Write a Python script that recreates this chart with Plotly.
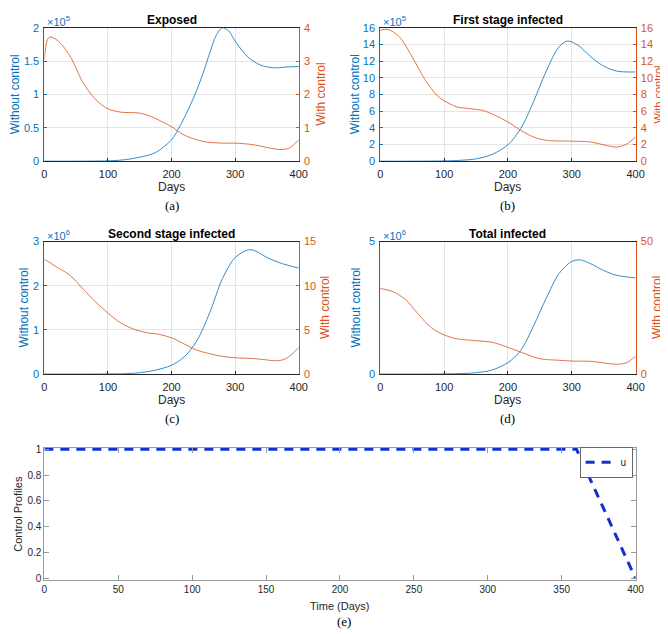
import plotly.graph_objects as go

W, H = 668, 634


def px(x):
    return x / W


def py(y):
    return 1 - y / H


# ---------------- data ----------------
# (a) Exposed  (left axis in units of 1e5)
exp_wo_days = [0, 50, 100, 125, 150, 175, 200, 210, 220, 236, 250, 260, 270, 280, 290, 300, 320, 340, 360, 380, 400]
exp_wo_vals = [0, 0, 0.005, 0.02, 0.06, 0.13, 0.32, 0.47, 0.65, 0.98, 1.33, 1.62, 1.88, 2.0, 1.95, 1.8, 1.56, 1.44, 1.40, 1.41, 1.42]
exp_w_days = [0, 4, 8, 20, 40, 60, 80, 100, 120, 150, 170, 200, 220, 250, 280, 300, 330, 350, 370, 385, 400]
exp_w_vals = [3.04, 3.6, 3.72, 3.63, 3.16, 2.38, 1.86, 1.57, 1.47, 1.44, 1.32, 1.03, 0.78, 0.59, 0.54, 0.54, 0.49, 0.41, 0.35, 0.39, 0.64]

# (b) First stage infected (left axis in units of 1e5)
fs_wo_days = [0, 50, 100, 125, 150, 175, 200, 220, 240, 260, 280, 293, 310, 330, 350, 370, 385, 400]
fs_wo_vals = [0, 0, 0.03, 0.1, 0.27, 0.8, 1.96, 3.9, 7.1, 10.8, 13.7, 14.4, 13.9, 12.5, 11.4, 10.8, 10.7, 10.7]
fs_w_days = [0, 12, 30, 50, 70, 90, 100, 120, 140, 160, 180, 200, 220, 240, 260, 300, 330, 350, 370, 385, 400]
fs_w_vals = [15.7, 15.8, 14.9, 12.5, 9.8, 7.8, 7.25, 6.5, 6.3, 6.1, 5.5, 4.7, 3.7, 2.9, 2.5, 2.4, 2.3, 1.96, 1.7, 2.0, 2.9]

# (c) Second stage infected (left axis in units of 1e6)
ss_wo_days = [0, 50, 100, 130, 150, 175, 200, 220, 240, 260, 280, 300, 320, 330, 350, 370, 400]
ss_wo_vals = [0, 0, 0.003, 0.01, 0.03, 0.09, 0.2, 0.39, 0.76, 1.39, 2.16, 2.64, 2.81, 2.8, 2.64, 2.52, 2.4]
ss_w_days = [0, 20, 40, 60, 80, 100, 120, 140, 160, 180, 200, 220, 240, 260, 280, 300, 330, 350, 365, 380, 400]
ss_w_vals = [13.0, 12.1, 11.2, 9.7, 8.2, 6.9, 5.8, 5.1, 4.7, 4.5, 4.1, 3.4, 2.7, 2.3, 2.0, 1.85, 1.75, 1.6, 1.5, 1.75, 3.0]

# (d) Total infected (left axis in units of 1e6)
ti_wo_days = [0, 50, 100, 130, 150, 175, 200, 220, 240, 260, 280, 300, 313, 330, 350, 370, 400]
ti_wo_vals = [0, 0, 0.005, 0.02, 0.05, 0.15, 0.43, 0.89, 1.81, 2.86, 3.79, 4.25, 4.31, 4.16, 3.91, 3.73, 3.63]
ti_w_days = [0, 20, 40, 60, 80, 100, 120, 150, 175, 200, 220, 250, 280, 300, 330, 350, 370, 385, 400]
ti_w_vals = [32.3, 31.1, 28.0, 22.5, 17.5, 14.8, 13.3, 12.6, 12.0, 10.1, 8.3, 5.8, 5.2, 4.9, 4.8, 4.2, 3.7, 4.2, 6.7]

# (e) Control profile
u_days = [0, 360, 400]
u_vals = [1, 1, 0]

panel_titles = ["Exposed", "First stage infected", "Second stage infected", "Total infected"]
panel_exps = ["5", "5", "6", "6"]
left_ticks = [[0, 0.5, 1, 1.5, 2], [0, 2, 4, 6, 8, 10, 12, 14, 16], [0, 1, 2, 3], [0, 5]]
right_ticks = [[0, 1, 2, 3, 4], [0, 2, 4, 6, 8, 10, 12, 14, 16], [0, 5, 10, 15], [0, 50]]
day_ticks = [0, 100, 200, 300, 400]
u_xticks = [0, 50, 100, 150, 200, 250, 300, 350, 400]
u_yticks = [0, 0.2, 0.4, 0.6, 0.8, 1]
captions = ["(a)", "(b)", "(c)", "(d)", "(e)"]

series = [
    (exp_wo_days, exp_wo_vals, exp_w_days, exp_w_vals),
    (fs_wo_days, fs_wo_vals, fs_w_days, fs_w_vals),
    (ss_wo_days, ss_wo_vals, ss_w_days, ss_w_vals),
    (ti_wo_days, ti_wo_vals, ti_w_days, ti_w_vals),
]

# ---------------- style ----------------
BLUE = "#0072BD"
ORANGE = "#D95319"
BLUE_LINE = "rgba(0,114,189,0.8)"
ORANGE_LINE = "rgba(217,83,25,0.8)"
AX = "#262626"
GRID = "#e4e4e4"
SANS = "Liberation Sans, Arial, sans-serif"
SERIF = "Liberation Serif, Times New Roman, serif"

# pixel geometry of the four small panels: (left, right, top, bottom)
geo = [(34, 293, 14, 150), (376, 636, 14, 150), (34, 293, 232, 367), (376, 636, 232, 367)]
ylab_left_x = [5, 351, 13, 351]
ylab_right_x = [316, 659, 320, 658]
ylab_right_size = [12, 11, 12, 12]

fig = go.Figure()
layout = dict(
    width=W, height=H,
    margin=dict(l=0, r=0, t=0, b=0),
    paper_bgcolor="white", plot_bgcolor="white",
    font=dict(family=SANS, size=11, color=AX),
    showlegend=True,
)
annotations = []

for i in range(4):
    L, R, T, B = geo[i]
    xn = "x" if i == 0 else f"x{i + 1}"
    xk = "xaxis" if i == 0 else f"xaxis{i + 1}"
    yl_n = 2 * i + 1
    yr_n = 2 * i + 2
    yl = "y" if yl_n == 1 else f"y{yl_n}"
    yr = f"y{yr_n}"
    ylk = "yaxis" if yl_n == 1 else f"yaxis{yl_n}"
    yrk = f"yaxis{yr_n}"

    layout[xk] = dict(
        domain=[px(L), px(R)], anchor=yl, range=[0, 400],
        tickvals=day_ticks, ticks="inside", ticklen=3, tickcolor=AX,
        showline=True, linecolor=AX, linewidth=1, mirror=True,
        showgrid=True, gridcolor=GRID, zeroline=False,
        tickfont=dict(size=11, color=AX), ticklabelstandoff=3,
    )
    layout[ylk] = dict(
        domain=[py(B), py(T)], anchor=xn, range=[0, left_ticks[i][-1]],
        tickvals=left_ticks[i], ticks="inside", ticklen=3, tickcolor=BLUE,
        showline=True, linecolor=BLUE, linewidth=1,
        showgrid=True, gridcolor=GRID, zeroline=False,
        tickfont=dict(size=11, color=BLUE), ticklabelstandoff=2,
    )
    layout[yrk] = dict(
        overlaying=yl, side="right", anchor=xn, range=[0, right_ticks[i][-1]],
        tickvals=right_ticks[i], ticks="inside", ticklen=3, tickcolor=ORANGE,
        showline=True, linecolor=ORANGE, linewidth=1,
        showgrid=False, zeroline=False,
        tickfont=dict(size=11, color=ORANGE), ticklabelstandoff=2,
    )

    wo_d, wo_v, w_d, w_v = series[i]
    fig.add_trace(go.Scatter(x=wo_d, y=wo_v, xaxis=xn, yaxis=yl, mode="lines",
                             line=dict(color=BLUE_LINE, width=1, shape="spline", smoothing=0.9),
                             showlegend=False, hoverinfo="skip"))
    fig.add_trace(go.Scatter(x=w_d, y=w_v, xaxis=xn, yaxis=yr, mode="lines",
                             line=dict(color=ORANGE_LINE, width=1, shape="spline", smoothing=0.9),
                             showlegend=False, hoverinfo="skip"))

    cx = (L + R) / 2
    cy = (T + B) / 2
    annotations += [
        dict(text=f"<b>{panel_titles[i]}</b>", x=px(cx), y=py(T - 8), xref="paper", yref="paper",
             showarrow=False, font=dict(size=12, color="black"), xanchor="center", yanchor="middle"),
        dict(text=f"×10<sup>{panel_exps[i]}</sup>", x=px(L + 1), y=py(T - 7), xref="paper", yref="paper",
             showarrow=False, font=dict(size=11, color=BLUE), xanchor="left", yanchor="middle"),
        dict(text="Without control", x=px(ylab_left_x[i]), y=py(cy), xref="paper", yref="paper",
             showarrow=False, textangle=-90, font=dict(size=12, color=BLUE), xanchor="center", yanchor="middle"),
        dict(text="With control", x=px(ylab_right_x[i]), y=py(cy), xref="paper", yref="paper",
             showarrow=False, textangle=-90, font=dict(size=ylab_right_size[i], color=ORANGE),
             xanchor="center", yanchor="middle", borderpad=0),
        dict(text="Days", x=px(cx), y=py(B + 26), xref="paper", yref="paper",
             showarrow=False, font=dict(size=12, color=AX), xanchor="center", yanchor="middle"),
        dict(text=captions[i], x=px(cx), y=py(B + 45), xref="paper", yref="paper",
             showarrow=False, font=dict(size=13, color="black", family=SERIF), xanchor="center", yanchor="middle"),
    ]

# ---------------- bottom panel ----------------
EL, ER, ET, EB = 34, 636, 442, 577
FRAME = "#9a9a9a"
layout["xaxis5"] = dict(
    domain=[px(EL), px(ER)], anchor="y9", range=[0, 400],
    tickvals=u_xticks, ticks="inside", ticklen=5, tickcolor=FRAME,
    showline=True, linecolor=FRAME, linewidth=1, mirror="ticks",
    showgrid=False, zeroline=False, tickfont=dict(size=10, color=AX),
)
layout["yaxis9"] = dict(
    domain=[py(EB), py(ET)], anchor="x5", range=[-0.012, 1.012],
    tickvals=u_yticks, ticktext=["0", "0.2", "0.4", "0.6", "0.8", "1"],
    ticks="inside", ticklen=5, tickcolor=FRAME,
    showline=True, linecolor=FRAME, linewidth=1, mirror="ticks",
    showgrid=False, zeroline=False, tickfont=dict(size=10, color=AX),
)
fig.add_trace(go.Scatter(x=u_days, y=u_vals, xaxis="x5", yaxis="y9", mode="lines", name="u",
                         line=dict(color="#1030d0", width=3, dash="9px,7px"), hoverinfo="skip"))

annotations += [
    dict(text="Time (Days)", x=px((EL + ER) / 2), y=py(603), xref="paper", yref="paper",
         showarrow=False, font=dict(size=11, color=AX), xanchor="center", yanchor="middle"),
    dict(text="Control Profiles", x=px(7), y=py((ET + EB) / 2), xref="paper", yref="paper",
         showarrow=False, textangle=-90, font=dict(size=11, color=AX), xanchor="center", yanchor="middle"),
    dict(text=captions[4], x=px(339), y=py(619), xref="paper", yref="paper",
         showarrow=False, font=dict(size=13, color="black", family=SERIF), xanchor="center", yanchor="middle"),
]

layout["annotations"] = annotations
layout["legend"] = dict(
    x=px(579), y=py(441), xanchor="left", yanchor="top",
    bgcolor="white", bordercolor="#666", borderwidth=1,
    font=dict(size=10, color=AX), itemwidth=30, tracegroupgap=0,
)
fig.update_layout(**layout)
fig.write_html("out.html")
